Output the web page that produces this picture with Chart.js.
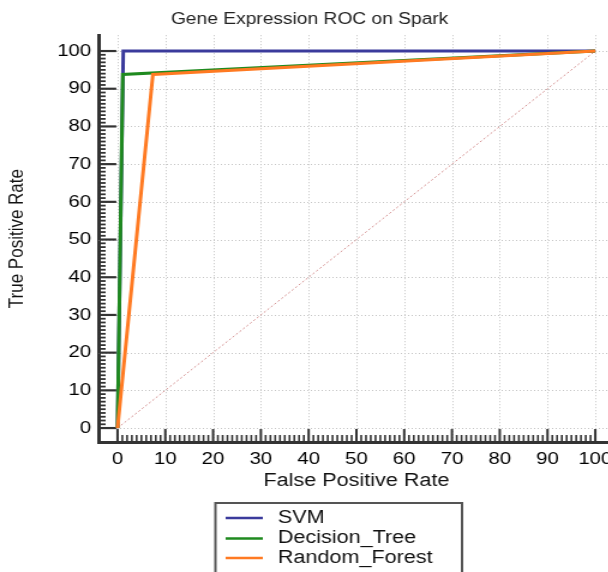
<!DOCTYPE html>
<html lang="en">
<head>
<meta charset="UTF-8">
<title>Gene Expression ROC on Spark</title>
<script src="https://cdn.jsdelivr.net/npm/chart.js"></script>
<style>
  body { margin: 0; padding: 0; background: #fff; overflow: hidden; }
  /* chart is drawn narrow and widened, so the text comes out wide */
  .wrap { width: 512px; height: 572px; transform: scaleX(1.2); transform-origin: 0 0; }
  canvas { display: block; }
</style>
</head>
<body>
<div class="wrap"><canvas id="roc" width="512" height="572"></canvas></div>
<script>
const seriesNames = ['SVM', 'Decision_Tree', 'Random_Forest'];
const seriesColors = ['#3b3b9c', '#1f8a1f', '#ff7a22'];

// false positive rate / true positive rate, in percent
const svmFpr = [0, 1.2, 100];
const svmTpr = [0, 100, 100];
const treeFpr = [0, 1.1, 100];
const treeTpr = [0, 93.8, 100];
const forestFpr = [0, 7.4, 100];
const forestTpr = [0, 93.8, 100];
const chanceFpr = [0, 100];
const chanceTpr = [0, 100];

const tickValues = [0, 10, 20, 30, 40, 50, 60, 70, 80, 90, 100];

const FONT = '"Liberation Sans", Arial, sans-serif';

function points(xs, ys) {
  return xs.map((x, i) => ({ x: x, y: ys[i] }));
}

// dotted grid on the tens, then small ticks every 1% and long ones every 10%
const axisTicks = {
  id: 'axisTicks',
  beforeDatasetsDraw(chart) {
    const { ctx, chartArea, scales: { x, y } } = chart;
    const x0 = x.getPixelForValue(0);
    const y0 = y.getPixelForValue(0);
    ctx.save();
    ctx.strokeStyle = '#c4c4c4';
    ctx.lineWidth = 1;
    ctx.setLineDash([1, 2]);
    tickValues.forEach(v => {
      const px = Math.round(x.getPixelForValue(v)) + 0.5;
      ctx.beginPath();
      ctx.moveTo(px, chartArea.top);
      ctx.lineTo(px, chartArea.bottom);
      ctx.stroke();
      const py = Math.round(y.getPixelForValue(v)) + 0.5;
      ctx.beginPath();
      ctx.moveTo(chartArea.left, py);
      ctx.lineTo(chartArea.right, py);
      ctx.stroke();
    });
    ctx.setLineDash([]);

    ctx.strokeStyle = '#333';
    for (let v = 0; v <= 100; v++) {
      const major = v % 10 === 0;
      const px = x.getPixelForValue(v);
      ctx.lineWidth = major ? 2 : 1.6;
      ctx.beginPath();
      ctx.moveTo(px, chartArea.bottom);
      ctx.lineTo(px, major ? y0 + 1 : chartArea.bottom - 7);
      ctx.stroke();

      const py = y.getPixelForValue(v);
      ctx.lineWidth = major ? 2.2 : 1.8;
      ctx.beginPath();
      ctx.moveTo(chartArea.left, py);
      ctx.lineTo(major ? x0 - 1 : chartArea.left + 6, py);
      ctx.stroke();
    }
    ctx.restore();
  }
};

// framed legend under the axis title
const boxLegend = {
  id: 'boxLegend',
  afterDraw(chart) {
    const { ctx } = chart;
    const rows = [518, 538.5, 558];
    ctx.save();
    ctx.strokeStyle = '#555';
    ctx.lineWidth = 2;
    ctx.strokeRect(179.5, 503, 205.5, 90);
    ctx.font = '18px ' + FONT;
    ctx.textBaseline = 'middle';
    ctx.textAlign = 'left';
    seriesNames.forEach((name, i) => {
      ctx.strokeStyle = seriesColors[i];
      ctx.lineWidth = 2.5;
      ctx.beginPath();
      ctx.moveTo(188, rows[i]);
      ctx.lineTo(219, rows[i]);
      ctx.stroke();
      ctx.fillStyle = '#111';
      ctx.fillText(name, 231.5, rows[i]);
    });
    ctx.restore();
  }
};

const lineStyle = { borderWidth: 3, pointRadius: 0, tension: 0, fill: false };

new Chart(document.getElementById('roc'), {
  type: 'line',
  data: {
    datasets: [
      { label: 'chance', data: points(chanceFpr, chanceTpr), borderColor: '#d49090',
        borderWidth: 1, borderDash: [2, 2], pointRadius: 0, order: 4 },
      { label: seriesNames[0], data: points(svmFpr, svmTpr), borderColor: seriesColors[0], order: 3, ...lineStyle },
      { label: seriesNames[1], data: points(treeFpr, treeTpr), borderColor: seriesColors[1], order: 2, ...lineStyle },
      { label: seriesNames[2], data: points(forestFpr, forestTpr), borderColor: seriesColors[2], order: 1, ...lineStyle }
    ]
  },
  options: {
    responsive: false,
    animation: false,
    devicePixelRatio: 1,
    layout: { padding: { left: 4, right: 0, top: 0, bottom: 80 } },
    plugins: {
      legend: { display: false },
      tooltip: { enabled: false },
      title: {
        display: true,
        text: 'Gene Expression ROC on Spark',
        color: '#222',
        font: { family: FONT, size: 16, weight: 'normal' },
        padding: { top: 10, bottom: 6 }
      }
    },
    scales: {
      x: {
        type: 'linear',
        min: -4,
        max: 104,
        afterBuildTicks: (s) => { s.ticks = tickValues.map(v => ({ value: v })); },
        afterFit: (s) => { s.height = 50; s.paddingLeft = 0; s.paddingRight = 0; },
        grid: { display: false, drawTicks: false },
        border: { display: true, color: '#333', width: 3 },
        ticks: { color: '#000', padding: 7, maxRotation: 0, autoSkip: false,
                 font: { family: FONT, size: 17 } },
        title: { display: true, text: 'False Positive Rate', color: '#111',
                 font: { family: FONT, size: 18 }, padding: 0 }
      },
      y: {
        type: 'linear',
        min: -3.7,
        max: 104.2,
        afterBuildTicks: (s) => { s.ticks = tickValues.map(v => ({ value: v })); },
        afterFit: (s) => { s.width = 78; s.paddingTop = 0; s.paddingBottom = 0; },
        grid: { display: false, drawTicks: false },
        border: { display: true, color: '#333', width: 3 },
        ticks: { color: '#000', padding: 6, autoSkip: false,
                 font: { family: FONT, size: 17 } },
        title: { display: true, text: 'True Positive Rate', color: '#111',
                 font: { family: FONT, size: 17 }, padding: 0 }
      }
    }
  },
  plugins: [axisTicks, boxLegend]
});
</script>
</body>
</html>
